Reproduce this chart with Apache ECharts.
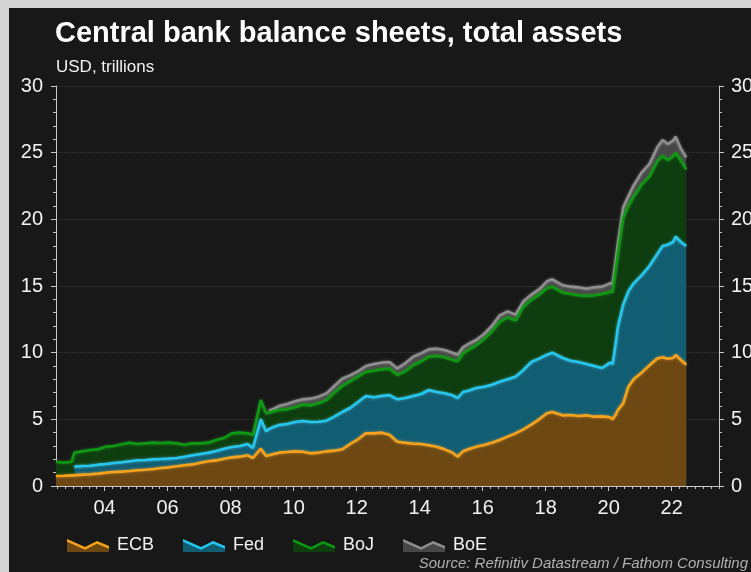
<!DOCTYPE html>
<html>
<head>
<meta charset="utf-8">
<script src="https://cdn.jsdelivr.net/npm/echarts@6/dist/echarts.min.js"></script>
<style>
html,body{margin:0;padding:0;background:#181818;}
#chart{width:751px;height:572px;}
</style>
</head>
<body>
<div id="chart"></div>
<script>
// ---- Data (USD trillions) ----
const dates = ['2002-06','2002-09','2002-12','2003-01','2003-04','2003-07','2003-10','2004-01','2004-04','2004-07',
'2004-10','2005-01','2005-04','2005-07','2005-10','2006-01','2006-04','2006-07','2006-10','2007-01',
'2007-04','2007-07','2007-10','2008-01','2008-04','2008-07','2008-09','2008-12','2009-02','2009-03',
'2009-05','2009-07','2009-10','2010-01','2010-04','2010-07','2010-10','2011-01','2011-04','2011-07',
'2011-10','2012-01','2012-04','2012-07','2012-10','2013-01','2013-04','2013-07','2013-10','2014-01',
'2014-04','2014-07','2014-10','2015-01','2015-03','2015-05','2015-07','2015-10','2016-01','2016-04',
'2016-07','2016-10','2017-01','2017-04','2017-07','2017-10','2018-01','2018-03','2018-07','2018-10',
'2019-01','2019-04','2019-07','2019-10','2020-01','2020-02','2020-03','2020-04','2020-06','2020-08',
'2020-10','2021-01','2021-04','2021-07','2021-09','2021-11','2022-01','2022-02','2022-04','2022-06'];

const ecb = [0.75,0.77,0.80,0.80,0.85,0.88,0.93,1.00,1.05,1.08,
1.12,1.18,1.22,1.28,1.35,1.40,1.48,1.55,1.62,1.75,
1.85,1.92,2.05,2.15,2.20,2.30,2.10,2.80,2.25,2.30,
2.40,2.50,2.55,2.60,2.57,2.45,2.50,2.60,2.65,2.75,
3.15,3.50,3.95,3.95,4.00,3.85,3.32,3.25,3.18,3.15,
3.05,2.95,2.75,2.50,2.20,2.60,2.75,2.95,3.07,3.25,
3.45,3.70,3.95,4.25,4.60,5.00,5.45,5.55,5.30,5.32,
5.25,5.30,5.20,5.22,5.15,5.00,5.30,5.70,6.20,7.45,
8.00,8.50,9.05,9.57,9.65,9.55,9.60,9.82,9.45,9.10];

const fed = [null,null,null,0.65,0.65,0.64,0.67,0.65,0.67,0.70,
0.73,0.75,0.73,0.72,0.68,0.65,0.62,0.65,0.68,0.65,
0.65,0.70,0.75,0.77,0.80,0.85,0.75,2.20,1.85,1.95,
2.05,2.07,2.10,2.20,2.30,2.35,2.32,2.30,2.55,2.80,
2.70,2.80,2.80,2.70,2.75,2.97,3.18,3.35,3.57,3.75,
4.15,4.10,4.20,4.30,4.40,4.45,4.40,4.40,4.38,4.35,
4.37,4.30,4.25,4.45,4.70,4.55,4.40,4.45,4.30,4.08,
4.05,3.85,3.80,3.63,4.10,4.15,5.20,6.25,7.40,7.15,
7.20,7.30,7.45,7.83,8.35,8.55,8.70,8.88,8.85,8.90];

const boj = [1.07,0.98,1.02,1.05,1.10,1.18,1.15,1.30,1.28,1.35,
1.40,1.22,1.25,1.25,1.19,1.20,1.10,0.90,0.90,0.80,
0.75,0.83,0.80,1.03,1.00,0.80,0.97,1.45,1.35,1.25,
1.15,1.13,1.10,1.10,1.23,1.25,1.38,1.55,1.80,1.95,
2.00,1.90,1.80,2.00,2.00,1.98,1.82,2.00,2.30,2.45,
2.50,2.70,2.70,2.65,2.75,2.90,3.05,3.20,3.55,4.00,
4.48,4.65,4.20,4.75,4.65,4.80,5.00,4.95,4.90,5.00,
5.00,5.10,5.30,5.55,5.30,5.40,5.50,5.50,6.50,6.40,
6.50,6.80,6.70,6.95,6.75,6.35,6.40,6.30,6.10,5.75];

const boe = [null,null,null,null,null,null,null,null,null,null,
null,null,null,null,null,null,null,null,null,null,
null,null,null,null,null,null,null,null,null,0.15,
0.20,0.30,0.40,0.45,0.40,0.50,0.50,0.50,0.50,0.55,
0.45,0.40,0.45,0.50,0.50,0.50,0.50,0.60,0.65,0.60,
0.55,0.55,0.55,0.55,0.50,0.45,0.45,0.40,0.40,0.40,
0.50,0.45,0.45,0.40,0.40,0.40,0.50,0.55,0.55,0.55,
0.60,0.55,0.60,0.55,0.65,0.65,0.70,0.75,0.80,0.75,
0.85,0.90,0.95,1.05,1.20,1.20,1.20,1.20,0.90,0.90];

const seriesNames = ['ECB','Fed','BoJ','BoE'];
const xTickYears = [2004,2006,2008,2010,2012,2014,2016,2018,2020,2022];
const xTickLabels = ['04','06','08','10','12','14','16','18','20','22'];

// ---- Styling ----
const FONT = '"Liberation Sans", Arial, sans-serif';
const lineColors = {ECB:'#f7a21b', Fed:'#22c8f0', BoJ:'#0d9a12', BoE:'#8e8e8e'};
const glowColors = {ECB:'rgba(255,190,80,0.55)', Fed:'rgba(120,225,250,0.55)', BoJ:'rgba(60,190,60,0.5)', BoE:'rgba(190,190,190,0.5)'};
const fillColors = {ECB:'#6d4813', Fed:'#115d72', BoJ:'#0e3d0f', BoE:'#474747'};
const axisCol = '#c8c8c8';
const labelCol = '#f2f2f2';

// ---- Build stacked totals ----
const toYear = s => { const p = s.split('-').map(Number); return p[0] + (p[1] - 0.5) / 12; };
const xs = dates.map(toYear);
const layers = {ECB: ecb, Fed: fed, BoJ: boj, BoE: boe};
const cumul = {};
let running = xs.map(() => 0);
seriesNames.forEach(name => {
  const arr = layers[name];
  cumul[name] = arr.map((v, i) => {
    if (v == null) return [xs[i], null];
    running[i] += v;
    return [xs[i], +running[i].toFixed(3)];
  });
});

const quarterTicks = [];
for (let q = 2002.5; q <= 2023.5; q += 0.25) quarterTicks.push(+q.toFixed(2));

const areaIcon = 'path://M0,0L0.01,0L0,0.01ZM0,2L18,10L30,4L42,9L42,14L0,14Z';
const lineIcon = 'path://M0,0L0.01,0L0,0.01ZM42,14L41.99,14L42,13.99ZM0,1L18,9L30,3L42,8L42,10.8L30,5.8L18,11.8L0,3.8Z';

const drawOrder = ['BoE','BoJ','Fed','ECB'];
const series = drawOrder.map(name => ({
  name: name,
  type: 'line',
  data: cumul[name],
  xAxisIndex: 0,
  yAxisIndex: 0,
  symbol: 'none',
  showSymbol: false,
  connectNulls: false,
  color: lineColors[name],
  lineStyle: {color: lineColors[name], width: 2.6, shadowBlur: 3, shadowColor: glowColors[name]},
  areaStyle: {color: fillColors[name], opacity: 1},
  emphasis: {disabled: true}
}));

const legendBase = {
  left: 62, top: 531, itemWidth: 42, itemHeight: 14, itemGap: 29,
  textStyle: {fontSize: 18, fontFamily: FONT, padding: [0,0,0,3]},
  itemStyle: {borderWidth: 0}
};

const option = {
  backgroundColor: '#181818',
  animation: false,
  textStyle: {fontFamily: FONT},
  title: [
    {text: 'Central bank balance sheets, total assets', left: 55, top: 19, padding: 0,
     textStyle: {color: '#ffffff', fontSize: 29, fontWeight: 'bold', fontFamily: FONT}},
    {text: 'USD, trillions', left: 56, top: 59, padding: 0,
     textStyle: {color: '#f2f2f2', fontSize: 17, fontWeight: 'normal', fontFamily: FONT}}
  ],
  grid: {left: 56, right: 32, top: 86, bottom: 86, containLabel: false, outerBoundsMode: 'none'},
  legend: [
    Object.assign({}, legendBase, {
      data: seriesNames.map(n => ({name: n, icon: areaIcon, itemStyle: {color: fillColors[n], borderWidth: 0}})),
      textStyle: Object.assign({}, legendBase.textStyle, {color: labelCol})
    }),
    Object.assign({}, legendBase, {
      data: seriesNames.map(n => ({name: n, icon: lineIcon, itemStyle: {color: lineColors[n], borderWidth: 0}})),
      textStyle: Object.assign({}, legendBase.textStyle, {color: 'rgba(0,0,0,0)'})
    })
  ],
  xAxis: [
    {type: 'value', min: xs[0], max: 2023.5, position: 'bottom',
     axisLine: {show: true, onZero: false, lineStyle: {color: axisCol, width: 1}},
     axisTick: {show: true, customValues: xTickYears, length: 5, lineStyle: {color: axisCol}},
     axisLabel: {show: true, customValues: xTickYears, color: labelCol, fontSize: 20, margin: 12, fontFamily: FONT,
       formatter: v => { const i = xTickYears.indexOf(Math.round(v)); return i >= 0 ? xTickLabels[i] : ''; }},
     splitLine: {show: false}},
    {type: 'value', min: xs[0], max: 2023.5, position: 'bottom', gridIndex: 0,
     axisLine: {show: false, onZero: false},
     axisTick: {show: true, customValues: quarterTicks, length: 3, lineStyle: {color: axisCol}},
     axisLabel: {show: false},
     splitLine: {show: false}}
  ],
  yAxis: [
    {type: 'value', min: 0, max: 30, interval: 5, position: 'left',
     axisLine: {show: true, lineStyle: {color: axisCol}},
     axisTick: {show: true, length: 5, lineStyle: {color: axisCol}},
     minorTick: {show: true, splitNumber: 5, length: 3, lineStyle: {color: axisCol}},
     axisLabel: {color: labelCol, fontSize: 20, margin: 13, fontFamily: FONT},
     splitLine: {show: true, lineStyle: {color: '#3a3a3a', type: 'dotted', width: 1}}},
    {type: 'value', min: 0, max: 30, interval: 5, position: 'right',
     axisLine: {show: true, lineStyle: {color: axisCol}},
     axisTick: {show: true, length: 5, lineStyle: {color: axisCol}},
     minorTick: {show: true, splitNumber: 5, length: 3, lineStyle: {color: axisCol}},
     axisLabel: {color: labelCol, fontSize: 20, margin: 12, fontFamily: FONT},
     splitLine: {show: false}}
  ],
  graphic: [
    {type: 'rect', left: 0, top: 0, silent: true, shape: {width: 751, height: 8}, style: {fill: '#d4d4d4'}},
    {type: 'rect', left: 0, top: 0, silent: true, shape: {width: 9, height: 572}, style: {fill: '#d4d4d4'}},
    {type: 'text', right: 3, top: 556, silent: true,
     style: {text: 'Source: Refinitiv Datastream / Fathom Consulting', font: 'italic 15px "Liberation Sans", Arial, sans-serif', fill: '#b0b0b0'}}
  ],
  series: series
};

const chart = echarts.init(document.getElementById('chart'), null, {renderer: 'canvas'});
chart.setOption(option);
</script>
</body>
</html>
